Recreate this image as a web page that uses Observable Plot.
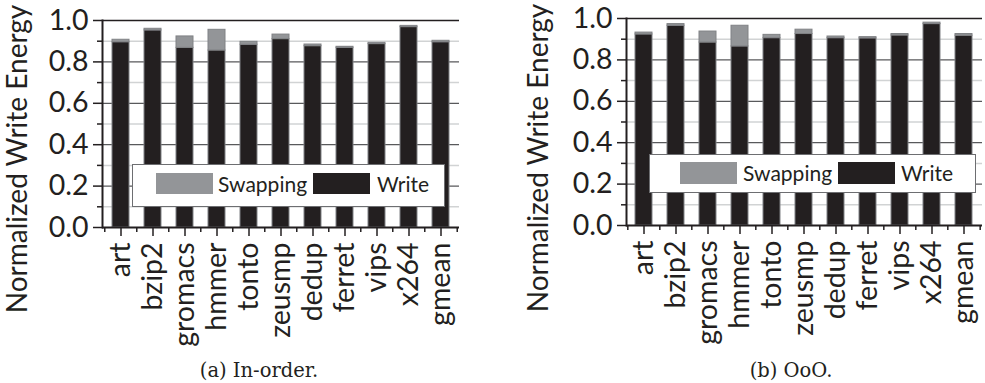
<!DOCTYPE html>
<html>
<head>
<meta charset="utf-8">
<script src="https://cdn.jsdelivr.net/npm/d3@7"></script>
<script src="https://cdn.jsdelivr.net/npm/@observablehq/plot@0.6"></script>
<style>
  body { margin: 0; background: #fff; }
  #wrap { position: relative; width: 985px; height: 383px; overflow: hidden; font-family: Lato, sans-serif; color: #231f20; }
  .panel { position: absolute; top: 0; }
  .legend { position: absolute; background: #fff; border: 1px solid #6d6e71; box-sizing: border-box; }
  .sw { position: absolute; }
  .lt { position: absolute; font-size: 21px; line-height: 1; white-space: nowrap; }
  .cap { position: absolute; font-family: "DejaVu Serif", serif; font-size: 19.5px; line-height: 1; white-space: nowrap; transform: translateX(-50%); }
</style>
</head>
<body>
<div id="wrap"></div>
<script>
// Benchmarks on the x axis
const benchmarks = ["art", "bzip2", "gromacs", "hmmer", "tonto", "zeusmp", "dedup", "ferret", "vips", "x264", "gmean"];

// (a) In-order core: normalized write energy split into write and swapping parts
const inOrderWrite = [0.895, 0.952, 0.868, 0.855, 0.883, 0.910, 0.876, 0.868, 0.886, 0.968, 0.895];
const inOrderSwap  = [0.012, 0.008, 0.055, 0.100, 0.014, 0.022, 0.008, 0.005, 0.006, 0.006, 0.007];

// (b) Out-of-order core
const oooWrite = [0.923, 0.965, 0.884, 0.865, 0.905, 0.925, 0.905, 0.904, 0.918, 0.973, 0.917];
const oooSwap  = [0.009, 0.008, 0.053, 0.100, 0.016, 0.021, 0.008, 0.006, 0.007, 0.007, 0.008];

const yMajorTicks = [0, 0.2, 0.4, 0.6, 0.8, 1.0];
const yMinorTicks = [0.1, 0.3, 0.5, 0.7, 0.9];
const seriesNames = ["Swapping", "Write"];
const seriesColors = ["#939598", "#231f20"];
const yTitle = "Normalized Write Energy";
const captions = ["(a) In-order.", "(b) OoO."];

const wrap = document.getElementById("wrap");

function rowsOf(write, swap) {
  const rows = [];
  benchmarks.forEach((b, i) => {
    rows.push({bench: b, series: "Write", value: write[i]});
    rows.push({bench: b, series: "Swapping", value: swap[i]});
  });
  return rows;
}

function drawPanel(cfg) {
  const {write, swap, left, width, height, mL, mR, mT, mB, titleDx, titleDy} = cfg;
  const step = (width - mL - mR) / benchmarks.length;
  const chart = Plot.plot({
    width, height,
    marginLeft: mL, marginRight: mR, marginTop: mT, marginBottom: mB,
    style: {fontFamily: "Lato, sans-serif", color: "#231f20", background: "transparent", overflow: "visible"},
    x: {domain: benchmarks, paddingInner: 0.46, paddingOuter: 0.23, axis: null},
    y: {domain: [0, 1], axis: null},
    color: {domain: seriesNames, range: seriesColors},
    marks: [
      // gridlines
      Plot.ruleY(yMinorTicks, {stroke: "#d1d3d4", strokeWidth: 1.5}),
      Plot.ruleY([0.2, 0.4, 0.6, 0.8], {stroke: "#58595b", strokeWidth: 1.2}),
      Plot.ruleY([1], {stroke: "#231f20", strokeWidth: 1.5}),
      // stacked bars: write at the bottom, swapping on top
      Plot.barY(rowsOf(write, swap), {
        x: "bench", y: "value", fill: "series",
        order: ["Write", "Swapping"],
        stroke: "#808285", strokeWidth: 1
      }),
      // axis lines
      Plot.ruleY([0], {stroke: "#231f20", strokeWidth: 2}),
      Plot.frame({anchor: "left", stroke: "#231f20", strokeWidth: 2}),
      // y ticks and labels
      Plot.axisY({ticks: yMajorTicks, tickSize: 9, tickPadding: 5, tickFormat: d3.format(".1f"),
        fontSize: 28.5, label: null, strokeWidth: 1.5}),
      Plot.axisY({ticks: yMinorTicks, tickSize: 5, tickFormat: () => "", label: null, strokeWidth: 1.5}),
      // x ticks: long ones at bar centres, short ones at the boundaries
      Plot.axisX({tickSize: 9, tickPadding: 6, tickRotate: -90, fontSize: 28.5, label: null, strokeWidth: 1.5}),
      Plot.axisX({tickSize: 5, tickFormat: () => "", label: null, dx: -step / 2, strokeWidth: 1.5}),
      Plot.axisX({ticks: [benchmarks[benchmarks.length - 1]], tickSize: 5, tickFormat: () => "", label: null, dx: step / 2, strokeWidth: 1.5}),
      // y axis title
      Plot.text([yTitle], {frameAnchor: "left", rotate: -90, dx: titleDx, dy: titleDy,
        fontSize: 28, textAnchor: "middle", lineAnchor: "middle", fill: "#231f20"})
    ]
  });
  const holder = document.createElement("div");
  holder.className = "panel";
  holder.style.left = left + "px";
  holder.appendChild(chart);
  wrap.appendChild(holder);
}

function drawLegend(lg) {
  const box = document.createElement("div");
  box.className = "legend";
  Object.assign(box.style, {left: lg.x + "px", top: lg.y + "px", width: lg.w + "px", height: lg.h + "px"});
  wrap.appendChild(box);
  seriesNames.forEach((name, i) => {
    const sw = document.createElement("div");
    sw.className = "sw";
    Object.assign(sw.style, {left: lg.sx[i] + "px", top: lg.sy + "px", width: "57px", height: lg.sh + "px", background: seriesColors[i]});
    wrap.appendChild(sw);
    const t = document.createElement("div");
    t.className = "lt";
    t.textContent = name;
    Object.assign(t.style, {left: lg.tx[i] + "px", top: lg.ty + "px"});
    wrap.appendChild(t);
  });
}

function drawCaption(text, cx, top) {
  const c = document.createElement("div");
  c.className = "cap";
  c.textContent = text;
  Object.assign(c.style, {left: cx + "px", top: top + "px"});
  wrap.appendChild(c);
}

drawPanel({write: inOrderWrite, swap: inOrderSwap, left: 0, width: 470, height: 383,
  mL: 102, mR: 11, mT: 20, mB: 156, titleDx: -84, titleDy: 35});
drawPanel({write: oooWrite, swap: oooSwap, left: 492, width: 493, height: 383,
  mL: 134, mR: 3, mT: 18, mB: 158, titleDx: -87, titleDy: 36});

drawLegend({x: 132, y: 164, w: 313, h: 43, sx: [156, 313], sy: 173, sh: 21, tx: [218, 377], ty: 173});
drawLegend({x: 649, y: 154, w: 327, h: 39, sx: [680, 838], sy: 162, sh: 22, tx: [743, 901], ty: 162});

drawCaption(captions[0], 259, 361);
drawCaption(captions[1], 791, 361);
</script>
</body>
</html>
